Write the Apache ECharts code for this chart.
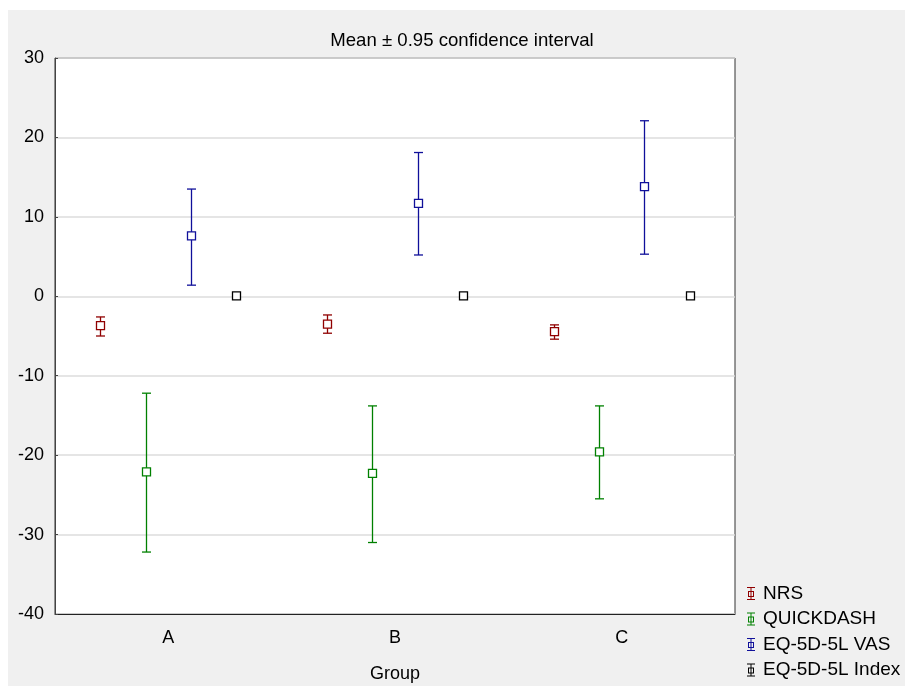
<!DOCTYPE html>
<html>
<head>
<meta charset="utf-8">
<script src="https://cdn.jsdelivr.net/npm/echarts/dist/echarts.min.js"></script>
<style>
html,body{margin:0;padding:0;background:#fff;}
#chart{position:absolute;left:8px;top:10px;width:897px;height:676px;}
</style>
</head>
<body>
<div id="chart"></div>
<script>
const categories = ['A', 'B', 'C'];
const seriesNames = ['NRS', 'QUICKDASH', 'EQ-5D-5L VAS', 'EQ-5D-5L Index'];
const yTicks = [-40, -30, -20, -10, 0, 10, 20, 30];

const nrsMean = [-3.7, -3.5, -4.45];
const nrsLow  = [-5.0, -4.65, -5.4];
const nrsHigh = [-2.6, -2.35, -3.6];

const qdMean = [-22.1, -22.3, -19.6];
const qdLow  = [-32.2, -31.0, -25.5];
const qdHigh = [-12.2, -13.8, -13.8];

const vasMean = [7.6, 11.7, 13.8];
const vasLow  = [1.4, 5.2, 5.3];
const vasHigh = [13.5, 18.1, 22.1];

const idxMean = [0.05, 0.05, 0.05];
const idxLow  = [0.02, 0.02, 0.02];
const idxHigh = [0.08, 0.08, 0.08];

const colors = ['#900000', '#008000', '#10109a', '#000000'];

function build(mean, low, high) {
  return categories.map((c, i) => [i, mean[i], low[i], high[i]]);
}
const allData = [
  build(nrsMean, nrsLow, nrsHigh),
  build(qdMean, qdLow, qdHigh),
  build(vasMean, vasLow, vasHigh),
  build(idxMean, idxLow, idxHigh)
];

function makeRender(k) {
  return function (params, api) {
    const x = api.value(0);
    const bw = api.size([1, 0])[0];
    const dx = (k - 1.5) * 0.2 * bw;
    const p = api.coord([x, api.value(1)]);
    const lo = api.coord([x, api.value(2)]);
    const hi = api.coord([x, api.value(3)]);
    const cx = Math.round(p[0] + dx) + 0.5;
    const color = api.visual('color');
    const st = { stroke: color, lineWidth: 1.3 };
    const cap = 4.5, half = 4;
    return {
      type: 'group',
      children: [
        { type: 'line', shape: { x1: cx, y1: hi[1], x2: cx, y2: lo[1] }, style: st },
        { type: 'line', shape: { x1: cx - cap, y1: hi[1], x2: cx + cap, y2: hi[1] }, style: st },
        { type: 'line', shape: { x1: cx - cap, y1: lo[1], x2: cx + cap, y2: lo[1] }, style: st },
        { type: 'rect', shape: { x: cx - half, y: p[1] - half, width: half * 2, height: half * 2 },
          style: { stroke: color, lineWidth: 1.3, fill: '#fff' } }
      ]
    };
  };
}

const iconPath = 'path://M0 0H8V1H0Z M0 12H8V13H0Z M3.5 0H4.5V13H3.5Z M1 4H7V10H1Z M2 5V9H6V5Z';

const chart = echarts.init(document.getElementById('chart'), null, { renderer: 'canvas' });
const font = 'Liberation Sans, Arial, sans-serif';
chart.setOption({
  backgroundColor: '#f0f0f0',
  animation: false,
  title: {
    text: 'Mean ± 0.95 confidence interval',
    left: 449, top: 16, textAlign: 'center',
    textStyle: { fontSize: 18.6, fontWeight: 'normal', color: '#000', fontFamily: font }
  },
  legend: {
    orient: 'vertical', left: 739, top: 574, itemGap: 6.5, height: 120,
    itemWidth: 8, itemHeight: 13, padding: 0,
    icon: iconPath,
    data: seriesNames,
    textStyle: { fontSize: 19, color: '#000', fontFamily: font, padding: [0, 0, 0, 3] }
  },
  grid: {
    left: 47, top: 48, width: 680, height: 556,
    outerBoundsMode: 'none',
    containLabel: false,
    show: true, backgroundColor: '#fff', borderColor: '#333', borderWidth: 1
  },
  xAxis: [{
    type: 'category', data: categories, position: 'bottom',
    name: 'Group', nameLocation: 'middle', nameGap: 51,
    nameTextStyle: { fontSize: 18, color: '#000', fontFamily: font },
    axisLine: { onZero: false, lineStyle: { color: '#222', width: 1 } },
    axisTick: { inside: true, alignWithLabel: true, length: 4, lineStyle: { color: '#222' } },
    axisLabel: { fontSize: 18, color: '#000', margin: 15, fontFamily: font },
    splitLine: { show: false }
  }, {
    type: 'category', data: categories, position: 'top',
    axisLine: { show: false, onZero: false },
    axisTick: { inside: true, alignWithLabel: true, length: 4, lineStyle: { color: '#222' } },
    axisLabel: { show: false },
    splitLine: { show: false }
  }],
  yAxis: {
    type: 'value', min: -40, max: 30, interval: 10,
    axisLine: { show: true, onZero: false, lineStyle: { color: '#444' } },
    axisTick: { show: true, inside: true, length: 3, lineStyle: { color: '#444' } },
    axisLabel: { fontSize: 18, color: '#000', margin: 11, fontFamily: font,
      customValues: yTicks },
    splitLine: { show: true, lineStyle: { color: '#dcdcdc', width: 1.5 } }
  },
  series: seriesNames.map((name, k) => ({
    name: name,
    type: 'custom',
    xAxisIndex: 0,
    itemStyle: { color: colors[k] },
    encode: { x: 0, y: [1, 2, 3] },
    renderItem: makeRender(k),
    data: allData[k]
  }))
});
</script>
</body>
</html>
